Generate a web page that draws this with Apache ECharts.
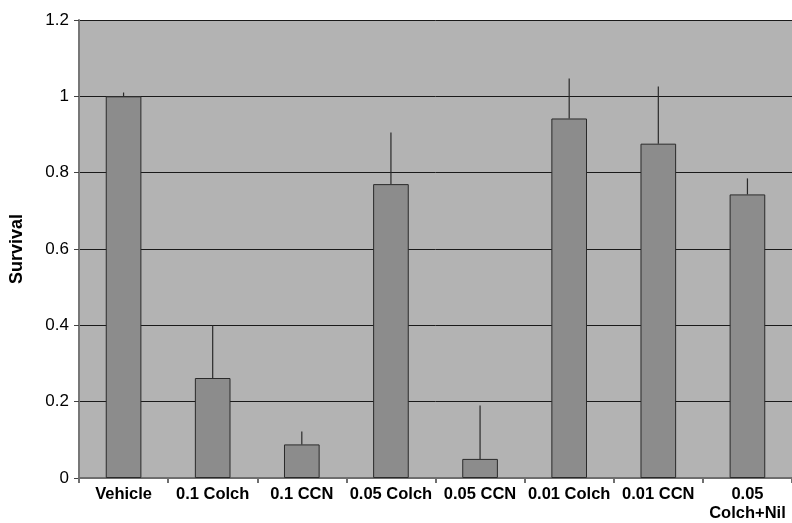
<!DOCTYPE html>
<html>
<head>
<meta charset="utf-8">
<script src="https://cdn.jsdelivr.net/npm/echarts@6/dist/echarts.min.js"></script>
<style>html,body{margin:0;padding:0;background:#fff;}#c{width:792px;height:523px;}</style>
</head>
<body>
<div id="c"></div>
<script>
const categories = ['Vehicle', '0.1 Colch', '0.1 CCN', '0.05 Colch', '0.05 CCN', '0.01 Colch', '0.01 CCN', '0.05\nColch+Nil'];
const survival = [1.0, 0.262, 0.088, 0.77, 0.05, 0.942, 0.876, 0.743];
const errorTop = [1.01, 0.40, 0.122, 0.905, 0.19, 1.047, 1.026, 0.785];
const yTicks = [0, 0.2, 0.4, 0.6, 0.8, 1, 1.2];

const chart = echarts.init(document.getElementById('c'), null, {renderer: 'canvas'});
chart.setOption({
  animation: false,
  grid: {left: 79, right: 0, top: 20, bottom: 45, show: true, backgroundColor: '#b3b3b3', borderWidth: 0, outerBoundsMode: 'none', containLabel: false},
  xAxis: {
    type: 'category',
    data: categories,
    axisLine: {show: true, lineStyle: {color: '#6e6e6e', width: 2}},
    axisTick: {show: true, length: 5, lineStyle: {color: '#6e6e6e', width: 2}},
    axisLabel: {fontFamily: 'Liberation Sans, Arial, sans-serif', fontWeight: 'bold', fontSize: 16.5, color: '#000', margin: 7, lineHeight: 19, interval: 0},
    splitLine: {show: false}
  },
  yAxis: {
    type: 'value',
    min: 0, max: 1.2, interval: 0.2,
    name: 'Survival',
    nameLocation: 'middle',
    nameGap: 53,
    nameTextStyle: {fontFamily: 'Liberation Sans, Arial, sans-serif', fontWeight: 'bold', fontSize: 18, color: '#000'},
    axisLine: {show: true, lineStyle: {color: '#777', width: 2}},
    axisTick: {show: true, length: 5, lineStyle: {color: '#444', width: 1}},
    axisLabel: {fontFamily: 'Liberation Sans, Arial, sans-serif', fontSize: 17, color: '#000', margin: 10,
      formatter: v => { const t = yTicks.find(x => Math.abs(x - v) < 1e-9); return t === undefined ? '' : String(t); }},
    splitLine: {show: true, lineStyle: {color: '#1a1a1a', width: 1}}
  },
  series: [
    {
      type: 'bar',
      data: survival,
      barWidth: '40%',
      itemStyle: {color: '#8c8c8c', borderColor: '#2a2a2a', borderWidth: 1},
      z: 2
    },
    {
      type: 'custom',
      data: survival.map((v, i) => [i, v, errorTop[i]]),
      encode: {x: 0, y: [1, 2]},
      renderItem: function (params, api) {
        const i = api.value(0);
        const p1 = api.coord([i, api.value(1)]);
        const p2 = api.coord([i, api.value(2)]);
        return {type: 'line', shape: {x1: p1[0], y1: p1[1], x2: p2[0], y2: p2[1]}, style: {stroke: '#2a2a2a', lineWidth: 1.2}};
      },
      z: 3
    }
  ]
});
</script>
</body>
</html>
